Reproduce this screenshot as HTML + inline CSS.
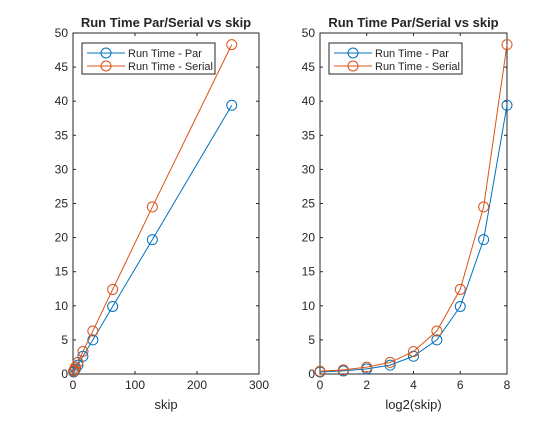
<!DOCTYPE html>
<html><head><meta charset="utf-8"><style>
body{margin:0;background:#fff;}
svg text{font-family:"Liberation Sans",Arial,sans-serif;fill:#262626;}
</style></head><body>
<svg id="fig" width="560" height="420"></svg>
<script>
const skip=[1,2,4,8,16,32,64,128,256];
const log2skip=[0,1,2,3,4,5,6,7,8];
const parTime=[0.3,0.45,0.75,1.3,2.6,5.0,9.9,19.7,39.4];
const serialTime=[0.4,0.6,1.0,1.7,3.3,6.3,12.4,24.5,48.3];
const yTicks=[0,5,10,15,20,25,30,35,40,45,50];
const leftXTicks=[0,100,200,300];
const rightXTicks=[0,2,4,6,8];
const NS="http://www.w3.org/2000/svg";
const svg=document.getElementById('fig');
function mk(tag,attrs,parent){const e=document.createElementNS(NS,tag);for(const k in attrs)e.setAttribute(k,attrs[k]);(parent||svg).appendChild(e);return e;}
function panel(name,x0,x1,xmin,xmax,xs,xt,xlabel){
  const y0=374,y1=33;
  const g=mk('g',{});
  
  
  const sx=v=>x0+(v-xmin)/(xmax-xmin)*(x1-x0);
  const sy=v=>y0-(v/50)*(y0-y1);
  mk('rect',{x:x0,y:y1,width:x1-x0,height:y0-y1,fill:'#fff',stroke:'#262626','stroke-width':1},g);
  yTicks.forEach(t=>{const y=sy(t);
    mk('line',{x1:x0,x2:x0+3,y1:y,y2:y,stroke:'#262626'},g);
    mk('line',{x1:x1,x2:x1-3,y1:y,y2:y,stroke:'#262626'},g);
    const tx=mk('text',{x:x0-5,y:y+4,'font-size':12,'text-anchor':'end'},g);tx.textContent=t;
    });
  xt.forEach(t=>{const x=sx(t);
    mk('line',{x1:x,x2:x,y1:y0,y2:y0-3,stroke:'#262626'},g);
    mk('line',{x1:x,x2:x,y1:y1,y2:y1+3,stroke:'#262626'},g);
    const tx=mk('text',{x:x,y:y0+15,'font-size':12,'text-anchor':'middle'},g);tx.textContent=t;
    });
  const xl=mk('text',{x:(x0+x1)/2,y:409,'font-size':13,'text-anchor':'middle'},g);xl.textContent=xlabel;
  
  const tt=mk('text',{x:(x0+x1)/2,y:27,'font-size':13,'font-weight':'bold','text-anchor':'middle',fill:'#000'},g);tt.textContent='Run Time Par/Serial vs skip';
  
  [[parTime,'#0072BD','par-series'],[serialTime,'#D95319','serial-series']].forEach(([ys,c,n])=>{
    const pts=xs.map((v,i)=>sx(v)+','+sy(ys[i])).join(' ');
    const pl=mk('polyline',{points:pts,fill:'none',stroke:c,'stroke-width':1},g);
    
    xs.forEach((v,i)=>{const m=mk('circle',{cx:sx(v),cy:sy(ys[i]),r:5,fill:'none',stroke:c},g);
      });
  });
  const lx=x0+9,ly=43;
  const lg=mk('g',{},g);
  
  mk('rect',{x:lx,y:ly,width:133,height:31,fill:'#fff',stroke:'#262626'},lg);
  [['Run Time - Par','#0072BD',ly+10],['Run Time - Serial','#D95319',ly+23]].forEach(([l,c,y])=>{
    mk('line',{x1:lx+5,x2:lx+43,y1:y,y2:y,stroke:c},lg);
    mk('circle',{cx:lx+24,cy:y,r:5,fill:'none',stroke:c},lg);
    const t=mk('text',{x:lx+46,y:y+4,'font-size':11},lg);t.textContent=l;
    
  });
}
panel('left-plot',73,259,0,300,skip,leftXTicks,'skip');
panel('right-plot',320,507,0,8,log2skip,rightXTicks,'log2(skip)');
</script>
</body></html>
